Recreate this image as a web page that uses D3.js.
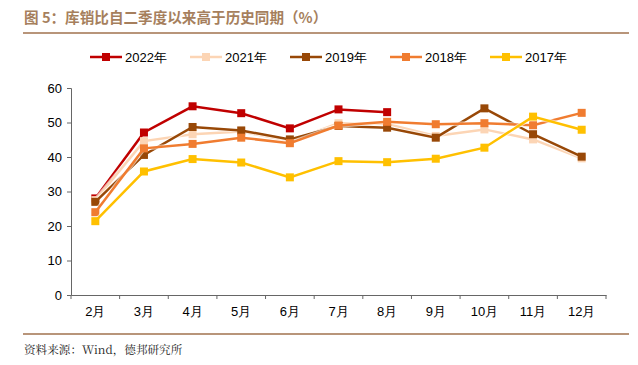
<!DOCTYPE html>
<meta charset="utf-8">
<title>库销比</title>
<style>
body {
  margin: 0px;
  background: #fff;
}
text {
  font-family: "Liberation Sans", Arial, sans-serif;
}
</style>
<script src="https://d3js.org/d3.v7.min.js"></script>
<body>
<script>
var width = 638, height = 365;

// months on the x axis
var months = ["2月", "3月", "4月", "5月", "6月", "7月", "8月", "9月", "10月", "11月", "12月"];
var yTicks = [0, 10, 20, 30, 40, 50, 60];

// inventory-sales ratio per year (%)
var y2022 = [28.0, 47.1, 54.7, 52.7, 48.3, 53.8, 53.0];
var y2021 = [27.5, 44.6, 46.6, 47.4, 44.6, 49.8, 49.6, 46.1, 48.0, 45.1, 39.6];
var y2019 = [27.0, 40.6, 48.7, 47.7, 45.1, 49.0, 48.5, 45.6, 54.1, 46.6, 40.1];
var y2018 = [24.0, 42.5, 43.8, 45.6, 44.0, 49.1, 50.2, 49.5, 49.8, 49.2, 52.8];
var y2017 = [21.4, 35.8, 39.4, 38.4, 34.1, 38.8, 38.5, 39.5, 42.7, 51.7, 47.9];

var seriesNames = ["2022年", "2021年", "2019年", "2018年", "2017年"];
var seriesValues = [y2022, y2021, y2019, y2018, y2017];
var colors = ["#c00000", "#fcd5b5", "#984807", "#f07c30", "#ffc000"];

var svg = d3.select("body").append("svg")
    .attr("width", width)
    .attr("height", height);

// title + rules
svg.append("text")
    .attr("x", 24)
    .attr("y", 23)
    .style("font-family", "'Noto Sans CJK SC', sans-serif")
    .style("font-size", "14.6px")
    .style("font-weight", "bold")
    .style("fill", "#a67f5d")
    .text("图 5：库销比自二季度以来高于历史同期（%）");

svg.append("line")
    .attr("x1", 23).attr("x2", 629)
    .attr("y1", 33).attr("y2", 33)
    .style("stroke", "#b8957a").style("stroke-width", 2);

svg.append("line")
    .attr("x1", 23).attr("x2", 629)
    .attr("y1", 334).attr("y2", 334)
    .style("stroke", "#b8957a").style("stroke-width", 2);

svg.append("text")
    .attr("x", 24)
    .attr("y", 354)
    .style("font-family", "'Noto Serif CJK SC', 'Noto Sans CJK SC', serif")
    .style("font-size", "11.6px")
    .style("fill", "#222")
    .text("资料来源：Wind，德邦研究所");

var x = d3.scaleBand()
    .domain(months)
    .range([71, 606]);

var y = d3.scaleLinear()
    .domain([0, 60])
    .range([295, 88]);

// y axis
var yAxis = svg.append("g")
    .attr("transform", "translate(71,0)")
    .call(d3.axisLeft(y).tickValues(yTicks).tickSize(4).tickPadding(5));
yAxis.selectAll("text").style("font-size", "13px").style("fill", "#000");
yAxis.selectAll("path, line").style("stroke", "#666");

// x axis with ticks at the category boundaries
var xAxis = svg.append("g")
    .attr("transform", "translate(0,295)")
    .call(d3.axisBottom(x).tickSize(0).tickPadding(12));
xAxis.selectAll("text").style("font-size", "13px").style("fill", "#000");
xAxis.select("path").style("stroke", "#666");
xAxis.selectAll("line.bound")
    .data(months.concat(["end"]))
  .enter().append("line")
    .attr("class", "bound")
    .attr("x1", function(d, i) { return 71 + i * x.step(); })
    .attr("x2", function(d, i) { return 71 + i * x.step(); })
    .attr("y1", 0).attr("y2", 4)
    .style("stroke", "#666");

var line = d3.line()
    .x(function(d, i) { return x(months[i]) + x.bandwidth() / 2; })
    .y(function(d) { return y(d); });

var layer = svg.append("g");
seriesValues.forEach(function(vals, k) {
  var g = layer.append("g");
  g.append("path")
      .attr("d", line(vals))
      .style("fill", "none")
      .style("stroke", "#fff")
      .style("stroke-opacity", 0.6)
      .style("stroke-width", 4.5);
  g.append("path")
      .attr("d", line(vals))
      .style("fill", "none")
      .style("stroke", colors[k])
      .style("stroke-width", 2.5);
  g.selectAll("rect")
      .data(vals)
    .enter().append("rect")
      .attr("x", function(d, i) { return x(months[i]) + x.bandwidth() / 2 - 4; })
      .attr("y", function(d) { return y(d) - 4; })
      .attr("width", 8)
      .attr("height", 8)
      .style("fill", colors[k]);
});

// legend
var legend = svg.append("g");
seriesNames.forEach(function(name, k) {
  var lx = 90 + k * 100;
  legend.append("line")
      .attr("x1", lx).attr("x2", lx + 32)
      .attr("y1", 57).attr("y2", 57)
      .style("stroke", colors[k]).style("stroke-width", 2.5);
  legend.append("rect")
      .attr("x", lx + 12).attr("y", 53)
      .attr("width", 8).attr("height", 8)
      .style("fill", colors[k]);
  legend.append("text")
      .attr("x", lx + 35)
      .attr("y", 62)
      .style("font-size", "13px")
      .style("fill", "#000")
      .text(name);
});
</script>
